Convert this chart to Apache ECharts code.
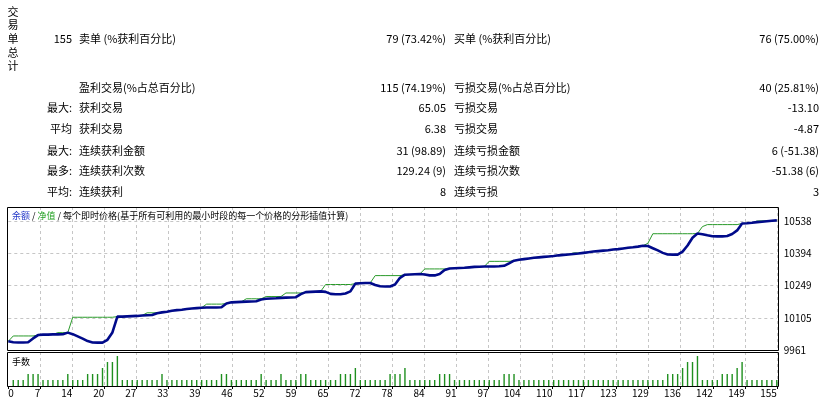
<!DOCTYPE html>
<html>
<head>
<meta charset="utf-8">
<script src="https://cdn.jsdelivr.net/npm/echarts@6/dist/echarts.min.js"></script>
<style>
  html, body { margin: 0; padding: 0; background: #fff; }
  #main { width: 826px; height: 404px; }
</style>
</head>
<body>
<div id="main"></div>
<script>
// ---- report table ----
const sideTitle = "交易单总计";
const rowHeads = ["155", "", "最大:", "平均", "最大:", "最多:", "平均:"];
const leftLabels = ["卖单 (%获利百分比)", "盈利交易(%占总百分比)", "获利交易", "获利交易", "连续获利金额", "连续获利次数", "连续获利"];
const leftValues = ["79 (73.42%)", "115 (74.19%)", "65.05", "6.38", "31 (98.89)", "129.24 (9)", "8"];
const rightLabels = ["买单 (%获利百分比)", "亏损交易(%占总百分比)", "亏损交易", "亏损交易", "连续亏损金额", "连续亏损次数", "连续亏损"];
const rightValues = ["76 (75.00%)", "40 (25.81%)", "-13.10", "-4.87", "6 (-51.38)", "-51.38 (6)", "3"];

// ---- chart data, one value per trade 0..155 ----
const balance = [
  10000, 9996, 9995, 9995, 9996, 10013, 10028, 10030, 10030, 10031,
  10031, 10032, 10039, 10032, 10022, 10012, 10001, 9995, 9994, 9994,
  10007, 10040, 10111, 10111, 10112, 10113, 10114, 10116, 10117, 10118,
  10126, 10130, 10133, 10137, 10140, 10142, 10145, 10147, 10149, 10151,
  10152, 10152, 10152, 10153, 10170, 10175, 10176, 10177, 10178, 10179,
  10180, 10188, 10191, 10192, 10193, 10195, 10196, 10197, 10198, 10212,
  10221, 10222, 10223, 10224, 10222, 10213, 10211, 10211, 10215, 10224,
  10259, 10261, 10262, 10262, 10253, 10247, 10246, 10246, 10255, 10285,
  10299, 10300, 10301, 10302, 10300, 10296, 10296, 10302, 10320, 10327,
  10328, 10329, 10330, 10332, 10334, 10335, 10336, 10336, 10336, 10337,
  10339, 10350, 10362, 10366, 10369, 10372, 10375, 10377, 10379, 10381,
  10383, 10386, 10388, 10390, 10392, 10394, 10397, 10400, 10403, 10405,
  10407, 10409, 10412, 10414, 10417, 10420, 10422, 10425, 10429, 10428,
  10418, 10408, 10397, 10390, 10389, 10389, 10403, 10430, 10465, 10484,
  10481, 10476, 10472, 10471, 10471, 10473, 10482, 10498, 10529, 10530,
  10532, 10535, 10537, 10539, 10541, 10543
];
const equity = [
  10000, 10024, 10024, 10024, 10024, 10024, 10028, 10030, 10030, 10031,
  10039, 10039, 10039, 10108, 10108, 10108, 10108, 10108, 10108, 10108,
  10108, 10108, 10111, 10111, 10112, 10113, 10114, 10116, 10128, 10128,
  10128, 10130, 10133, 10137, 10140, 10142, 10145, 10147, 10149, 10151,
  10167, 10167, 10167, 10167, 10170, 10175, 10176, 10177, 10191, 10191,
  10191, 10191, 10201, 10201, 10201, 10201, 10217, 10217, 10217, 10217,
  10221, 10222, 10223, 10224, 10255, 10255, 10255, 10255, 10255, 10255,
  10259, 10261, 10262, 10262, 10295, 10295, 10295, 10295, 10295, 10295,
  10299, 10300, 10301, 10302, 10325, 10325, 10325, 10325, 10325, 10327,
  10328, 10329, 10330, 10332, 10334, 10335, 10336, 10359, 10359, 10359,
  10359, 10359, 10362, 10366, 10372, 10372, 10375, 10377, 10379, 10381,
  10383, 10386, 10388, 10390, 10397, 10397, 10397, 10400, 10403, 10405,
  10407, 10409, 10412, 10414, 10417, 10420, 10422, 10425, 10429, 10440,
  10483, 10483, 10483, 10483, 10483, 10483, 10483, 10483, 10483, 10484,
  10515, 10524, 10524, 10524, 10524, 10524, 10524, 10524, 10529, 10530,
  10532, 10540, 10541, 10541, 10541, 10543
];
const lots = [
  0,
  1, 1, 1, 2, 2, 2, 1, 1, 1, 1,
  1, 2, 1, 1, 1, 2, 2, 2, 3, 4,
  4, 5, 1, 1, 1, 1, 1, 1, 1, 1,
  2, 1, 1, 1, 1, 1, 1, 1, 1, 1,
  1, 1, 2, 2, 1, 1, 1, 1, 1, 1,
  2, 1, 1, 1, 2, 1, 1, 1, 2, 2,
  1, 1, 1, 1, 1, 1, 2, 2, 2, 3,
  1, 1, 1, 1, 1, 1, 2, 2, 2, 3,
  1, 1, 1, 1, 1, 1, 2, 2, 2, 1,
  1, 1, 1, 1, 1, 1, 1, 1, 1, 2,
  2, 2, 1, 1, 1, 1, 1, 1, 1, 1,
  1, 1, 1, 1, 1, 1, 1, 1, 1, 1,
  1, 1, 1, 1, 1, 1, 1, 1, 1, 1,
  1, 1, 2, 2, 2, 3, 4, 4, 5, 1,
  1, 1, 1, 2, 2, 2, 3, 4, 1, 1,
  1, 1, 1, 1, 1
];
const xTicks = [0, 7, 14, 20, 27, 33, 39, 46, 52, 59, 65, 72, 78, 84, 91, 97, 104, 110, 117, 123, 129, 136, 142, 149, 155];
const yTicks = [9961, 10105, 10249, 10394, 10538];

const FONT = '"Noto Sans CJK SC", "Liberation Sans", sans-serif';
const yMin = 9961;
const yStep = yMin / 69;          // ~144.36, keeps min a multiple of the step
const xStep = 155 / 24;
const gridDash = { color: '#c6c6c6', width: 1, type: [3, 3] };

const graphics = [];
function txt(x, y, s, align, size, color) {
  graphics.push({
    type: 'text', x: x, y: y, silent: true,
    style: { text: s, align: align, verticalAlign: 'middle', font: size + 'px ' + FONT, fill: color || '#000' }
  });
}

// vertical side title
for (let k = 0; k < sideTitle.length; k++) txt(13, 11.7 + 13.6 * k, sideTitle[k], 'center', 11);
// table rows
const rowY = [39, 88, 108.3, 129, 150.7, 171, 192.3];
rowY.forEach((y, r) => {
  txt(72, y, rowHeads[r], 'right', 11);
  txt(79, y, leftLabels[r], 'left', 11);
  txt(446, y, leftValues[r], 'right', 11);
  txt(454, y, rightLabels[r], 'left', 11);
  txt(819, y, rightValues[r], 'right', 11);
});

// panel frames
graphics.push({ type: 'rect', silent: true, z: 10, shape: { x: 7.5, y: 207.5, width: 771, height: 143 }, style: { fill: 'none', stroke: '#000', lineWidth: 1 } });
graphics.push({ type: 'rect', silent: true, z: 10, shape: { x: 7.5, y: 352.5, width: 771, height: 34 }, style: { fill: 'none', stroke: '#000', lineWidth: 1 } });

// panel captions
graphics.push({
  type: 'text', x: 12, y: 215.5, silent: true, z: 10,
  style: {
    text: '{a|余额} / {b|净值} / 每个即时价格(基于所有可利用的最小时段的每一个价格的分形插值计算)',
    verticalAlign: 'middle', font: '9px ' + FONT, fill: '#000',
    rich: {
      a: { fill: '#2438c8', font: '9px ' + FONT },
      b: { fill: '#22a022', font: '9px ' + FONT }
    }
  }
});
txt(12, 362, '手数', 'left', 9);

const chart = echarts.init(document.getElementById('main'));
chart.setOption({
  backgroundColor: '#fff',
  animation: false,
  grid: [
    { left: 8.3, top: 207, width: 768.5, height: 143, outerBoundsMode: 'none' },
    { left: 8.3, top: 352, width: 768.5, height: 34, outerBoundsMode: 'none' }
  ],
  xAxis: [
    {
      type: 'value', gridIndex: 0, min: 0, max: 155, interval: xStep,
      axisLine: { show: false }, axisTick: { show: false }, axisLabel: { show: false },
      splitLine: { show: true, showMinLine: false, showMaxLine: true, lineStyle: gridDash }
    },
    {
      type: 'value', gridIndex: 1, min: 0, max: 155, interval: xStep,
      axisLine: { show: false },
      axisTick: { show: true, length: 3, lineStyle: { color: '#000', width: 1 } },
      axisLabel: {
        show: true, margin: 2, fontSize: 10, fontFamily: FONT, color: '#000',
        align: 'right', alignMinLabel: 'left', alignMaxLabel: 'right',
        showMinLabel: true, showMaxLabel: true,
        formatter: v => { const k = Math.round(v / xStep); return k < xTicks.length ? String(xTicks[k]) : ''; }
      },
      splitLine: { show: true, showMinLine: false, showMaxLine: true, lineStyle: gridDash }
    }
  ],
  yAxis: [
    {
      type: 'value', gridIndex: 0, position: 'right', min: yMin, max: 10603, interval: yStep,
      axisLine: { show: false }, axisTick: { show: false },
      axisLabel: {
        margin: 7, fontSize: 10, fontFamily: FONT, color: '#000',
        formatter: v => {
          const k = Math.round((v - yMin) / yStep);
          return (k < yTicks.length && Math.abs(v - (yMin + k * yStep)) < 1) ? String(yTicks[k]) : '';
        }
      },
      splitLine: { show: true, showMinLine: false, showMaxLine: false, lineStyle: gridDash }
    },
    { type: 'value', gridIndex: 1, min: 0, max: 5.67, show: false }
  ],
  series: [
    {
      name: '净值', type: 'line', xAxisIndex: 0, yAxisIndex: 0, z: 3,
      data: equity.map((v, i) => [i, v]), symbol: 'none',
      lineStyle: { color: '#2a9a2a', width: 1 }
    },
    {
      name: '余额', type: 'line', xAxisIndex: 0, yAxisIndex: 0, z: 4,
      data: balance.map((v, i) => [i, v]), symbol: 'none',
      lineStyle: { color: '#000a8a', width: 2.6 }
    },
    {
      name: '手数', type: 'bar', xAxisIndex: 1, yAxisIndex: 1, barWidth: 1.4,
      data: lots.map((v, i) => [i, v]),
      itemStyle: { color: '#1f8f1f' }
    }
  ],
  graphic: graphics
});
</script>
</body>
</html>
